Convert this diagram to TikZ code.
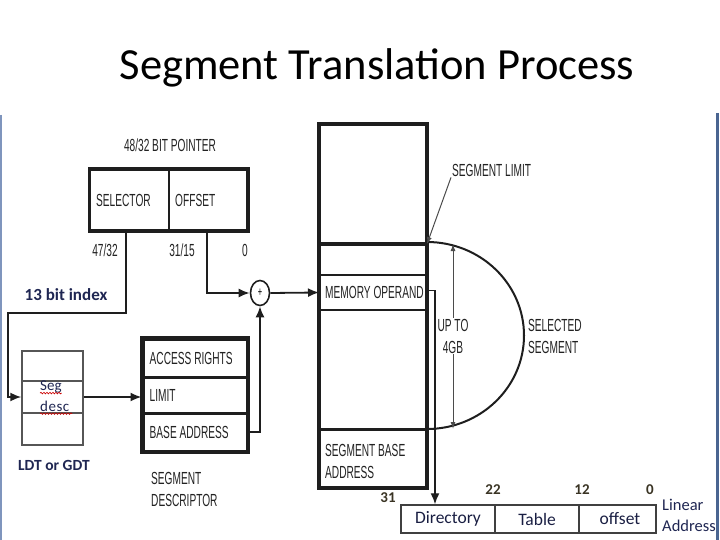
\documentclass[tikz,border=0pt]{standalone}
\usepackage{fontspec}
\setmainfont{Carlito}
\newfontfamily\condfam[FakeStretch=0.58]{Liberation Sans}
\usetikzlibrary{arrows.meta,shapes.geometric,decorations.pathmorphing,calc}
\definecolor{ink}{HTML}{1E1E1E}
\definecolor{txt}{HTML}{222222}
\definecolor{navy}{HTML}{1F2652}
\definecolor{edgeL}{HTML}{7F95BD}
\definecolor{edgeR}{HTML}{4A6591}
\definecolor{numc}{HTML}{3A3424}
\newcommand{\lblf}{\condfam\fontsize{17.5}{22}\selectfont}
\begin{document}
\begin{tikzpicture}[x=1pt,y=1pt,
  cell/.style 2 args={draw=ink, line width=2pt, inner sep=0pt, minimum width=#1pt, minimum height=#2pt},
  lcell/.style 2 args={draw=ink!75, line width=1.4pt, inner sep=0pt, minimum width=#1pt, minimum height=#2pt},
  acell/.style={draw=ink!85, line width=1.5pt, inner sep=0pt, minimum height=28pt, text=navy!80!black, font=\fontsize{17.5}{17.5}\selectfont},
  lbl/.style={inner sep=1pt, text=txt, font=\lblf},
  conn/.style={draw=ink, line width=1.8pt},
  thinl/.style={draw=ink!80, line width=1pt},
  arr/.style={-{Latex[length=11pt,width=9pt]}},
  sarr/.style={-{Latex[length=7pt,width=5pt]}},
  num/.style={inner sep=1pt, text=numc, font=\bfseries\fontsize{15}{15}\selectfont}]
\useasboundingbox (0,0) rectangle (720,-540);
\clip (0,0) rectangle (720,-540);

% title
\node[font=\fontsize{44.5}{44.5}\selectfont, text=black] (title) at (377,-68) {Segment Translation Process};

% pointer
\node[lbl] (ptrtitle) at (170,-145) {48/32 BIT POINTER};
\node[cell={79}{60}] (sel) at (129.5,-200) {};
\node[cell={78}{60}] (off) at (208,-200) {};
\draw[ink, line width=3pt] (sel.north west) rectangle (off.south east);
\node[lbl, anchor=west] (seltxt) at ([xshift=6pt]sel.west) {SELECTOR};
\node[lbl, anchor=west] (offtxt) at ([xshift=6pt]off.west) {OFFSET};
\node[lbl] (b47) at (105,-250) {47/32};
\node[lbl] (b31) at (182,-250) {31/15};
\node[lbl] (b0) at (245,-250) {0};

% adder
\node[draw=ink, line width=1.6pt, ellipse, minimum width=19pt, minimum height=25pt, inner sep=0pt, font=\condfam\fontsize{13}{13}\selectfont] (plus) at (260,-293) {+};

% LDT / GDT
\node[lcell={61}{30}] (ldt1) at (52.5,-366) {};
\node[lcell={61}{32}] (ldt2) at (52.5,-397) {};
\node[lcell={61}{32}] (ldt3) at (52.5,-429) {};
\node[inner sep=0pt, anchor=west, text=navy, font=\fontsize{15}{15}\selectfont] (seg) at (40,-387) {Seg};
\node[inner sep=0pt, anchor=west, text=navy, font=\fontsize{15}{15}\selectfont] (desc) at (40,-406) {d\kern0.5pt e\kern0.5pt s\kern0.5pt c};
\draw[red!80!black, line width=0.6pt, decorate, decoration={snake, amplitude=0.8pt, segment length=3pt}]
  ([yshift=-2.5pt]seg.base west) -- ([yshift=-2.5pt]seg.base east);
\draw[red!80!black, line width=0.6pt, decorate, decoration={snake, amplitude=0.8pt, segment length=3pt}]
  ([yshift=-2.5pt]desc.base west) -- ([yshift=-2.5pt,xshift=3pt]desc.base east);
\node[text=navy, font=\bfseries\fontsize{15.5}{15.5}\selectfont] (ldtlbl) at (54,-465) {LDT or GDT};

% index label
\node[text=navy, font=\bfseries\fontsize{17}{17}\selectfont, inner sep=1pt] (idx) at (66,-295) {13 bit index};

% segment descriptor
\node[cell={104}{38}, line width=3pt] (acc) at (195,-358) {};
\node[cell={104}{36}, line width=3pt] (lim) at (195,-395) {};
\node[cell={104}{38}, line width=3pt] (base) at (195,-432) {};
\draw[ink, line width=3.5pt] (acc.north west) rectangle (base.south east);
\node[lbl, anchor=west] (acctxt) at ([xshift=7pt]acc.west) {ACCESS RIGHTS};
\node[lbl, anchor=west] (limtxt) at ([xshift=7pt]lim.west) {LIMIT};
\node[lbl, anchor=west] (basetxt) at ([xshift=7pt]base.west) {BASE ADDRESS};
\node[lbl, anchor=west, align=left] (sdtxt) at (150,-489) {SEGMENT\\DESCRIPTOR};

% memory column
\node[cell={106}{118}] (memtop) at (373,-184) {};
\node[cell={106}{32}] (memgap) at (373,-259) {};
\node[cell={106}{35}] (memop) at (373,-292.5) {};
\node[cell={106}{120}] (memmid) at (373,-370) {};
\node[cell={106}{57}] (segb) at (373,-458.5) {};
\draw[ink, line width=3.5pt] (memtop.north west) rectangle (segb.south east);
\draw[ink, line width=3.5pt] (memtop.south west) -- (memtop.south east);
\draw[ink, line width=3pt] (segb.north west) -- (segb.north east);
\node[lbl, anchor=west] (memoptxt) at ([xshift=5pt]memop.west) {MEMORY OPERAND};
\node[lbl, anchor=west, align=left] (sbtxt) at ([xshift=5pt,yshift=-3pt]segb.west) {SEGMENT BASE\\ADDRESS};

% selected segment
\draw[ink, line width=2pt] (segb.north east) arc[start angle=-90, end angle=90, x radius=97, y radius=93.5];
\node[lbl, align=center] (upto) at (453,-336) {UP TO\\4GB};
\draw[thinl, sarr] (upto.north) -- (upto.north |- memtop.south east);
\draw[thinl, sarr] (upto.south) -- (upto.south |- segb.north east);
\node[lbl, anchor=west, align=left] (selseg) at (527,-336) {SELECTED\\SEGMENT};
\node[lbl, anchor=west] (seglim) at (451,-170) {SEGMENT LIMIT};
\draw[thinl, sarr] (seglim.south west) -- (memtop.south east);

% linear address
\node[acell, minimum width=94pt] (dir) at (448,-519) {Directory};
\node[acell, minimum width=84pt] (tab) at (537,-519) {Table};
\node[acell, minimum width=77pt] (offs) at (617.5,-519) {\hspace*{5pt}offset};
\node[num] (n31) at (388,-498) {31};
\node[num] (n22) at (493,-490) {22};
\node[num] (n12) at (582,-490) {12};
\node[num] (n0) at (650,-490) {0};
\node[anchor=west, inner sep=0pt, text=navy, font=\fontsize{16.5}{16.5}\selectfont] (lin) at (662,-505) {Linear};
\node[anchor=west, inner sep=0pt, text=navy, font=\fontsize{16.5}{16.5}\selectfont] (addr) at (662,-526) {Address};

% connectors
\coordinate (selout) at ([xshift=-3.5pt]sel.south);
\coordinate (c1) at (8,-313);
\draw[conn, arr] (selout) |- (c1) |- (ldt2.west);
\coordinate (offout) at ([xshift=-1pt]off.south);
\draw[conn, arr] (offout) |- (plus.west);
\draw[conn, arr] (plus.east) -- (memop.west);
\draw[conn, arr] (ldt2.east) -- (ldt2.east -| lim.west);
\draw[conn, arr] (base.east) -| (plus.south);
\coordinate (dirin) at ([xshift=-13pt]dir.north);
\draw[conn, line width=1.4pt, arr] ([yshift=2pt]memop.east) -| (dirin);

% slide edges
\draw[edgeL, line width=2.5pt] (1.2,-115) -- (1.2,-540);
\draw[edgeR, line width=2.5pt] (717.5,-113) -- (717.5,-540);
\end{tikzpicture}
\end{document}
